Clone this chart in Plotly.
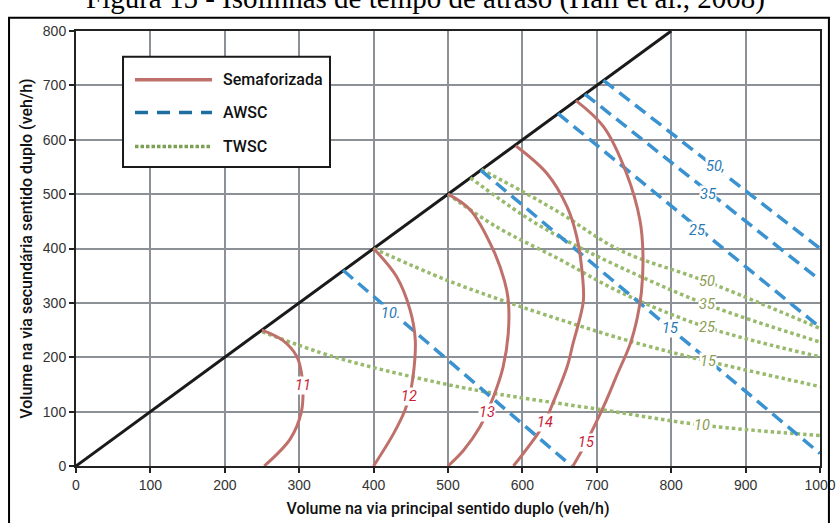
import plotly.graph_objects as go

# ---------------- data ----------------
diag_x = [0, 800]
diag_y = [0, 800]

# Semaforizada (signalised) delay isolines
sem_11_x = [250, 278, 297, 303, 305, 303, 288, 253]
sem_11_y = [250, 231, 201, 171, 148, 100, 50, 0]
sem_12_x = [400, 431, 449, 456, 453, 448, 442, 427, 400]
sem_12_y = [400, 348, 287, 232, 164, 128, 102, 60, 0]
sem_13_x = [500, 530, 561, 576, 581, 581, 574, 561, 552, 543, 521, 500]
sem_13_y = [500, 471, 397, 340, 305, 244, 182, 127, 99, 72, 29, 0]
sem_14_x = [591, 633, 660, 673, 680, 682, 675, 668, 660, 639, 630, 619, 588]
sem_14_y = [589, 538, 477, 422, 360, 305, 260, 225, 182, 109, 80, 56, 0]
sem_15_x = [672, 709, 740, 758, 762, 760, 754, 745, 727, 709, 686, 668]
sem_15_y = [672, 624, 538, 452, 391, 320, 270, 225, 167, 109, 44, 0]

# AWSC delay isolines
awsc_10_x = [359, 666]
awsc_10_y = [360, 0]
awsc_15_x = [544, 1000]
awsc_15_y = [544, 23]
awsc_25_x = [648, 1000]
awsc_25_y = [648, 255]
awsc_35_x = [684, 1000]
awsc_35_y = [684, 342]
awsc_50_x = [709, 1000]
awsc_50_y = [709, 400]

# TWSC delay isolines
twsc_10_x = [250, 346, 462, 552, 709, 843, 1000]
twsc_10_y = [247, 201, 161, 136, 103, 75, 56]
twsc_15_x = [400, 498, 600, 731, 798, 848, 1000]
twsc_15_y = [400, 342, 292, 235, 210, 193, 146]
twsc_25_x = [500, 565, 650, 731, 848, 1000]
twsc_25_y = [500, 440, 380, 320, 255, 201]
twsc_35_x = [530, 600, 650, 731, 848, 1000]
twsc_35_y = [530, 462, 421, 366, 297, 228]
twsc_50_x = [545, 600, 650, 731, 848, 1000]
twsc_50_y = [545, 505, 466, 397, 339, 253]

# isoline labels
sem_lab_text = ["11", "12", "13", "14", "15"]
sem_lab_x = [305, 448, 552, 630, 686]
sem_lab_y = [148, 128, 99, 80, 44]
awsc_lab_text = ["10.", "15", "25", "35", "50,"]
awsc_lab_x = [424, 798, 834, 850, 859]
awsc_lab_y = [281, 253, 434, 499, 551]
twsc_lab_text = ["50", "35", "25", "15", "10"]
twsc_lab_x = [848, 848, 848, 849, 842]
twsc_lab_y = [339, 297, 255, 193, 75]

x_ticks = [0, 100, 200, 300, 400, 500, 600, 700, 800, 900, 1000]
y_ticks = [0, 100, 200, 300, 400, 500, 600, 700, 800]

legend_names = ["Semaforizada", "AWSC", "TWSC"]

title_text = "Figura 15 - Isolinhas de tempo de atraso (Hall et al., 2008)"
x_title = "Volume na via principal sentido duplo (veh/h)"
y_title = "Volume na via secundária sentido duplo (veh/h)"

# ---------------- styles ----------------
RED = "rgb(192,112,106)"
BLUE = "rgb(58,146,208)"
GREEN = "rgb(152,186,108)"
RED_TXT = "rgb(200,30,55)"
BLUE_TXT = "rgb(40,120,180)"
GREEN_TXT = "rgb(138,155,80)"
FONT = "Roboto"
TICK_FONT = "Liberation Sans, Arial, sans-serif"

fig = go.Figure()

fig.add_trace(go.Scatter(x=diag_x, y=diag_y, mode="lines",
                         line=dict(color="#1a1a1a", width=3), showlegend=False))

for xs, ys in [(twsc_10_x, twsc_10_y), (twsc_15_x, twsc_15_y), (twsc_25_x, twsc_25_y),
               (twsc_35_x, twsc_35_y), (twsc_50_x, twsc_50_y)]:
    fig.add_trace(go.Scatter(x=xs, y=ys, mode="lines", line_shape="spline",
                             line=dict(color=GREEN, width=3.5, dash="3.5px,3px"),
                             name="TWSC", showlegend=False))

for xs, ys in [(awsc_10_x, awsc_10_y), (awsc_15_x, awsc_15_y), (awsc_25_x, awsc_25_y),
               (awsc_35_x, awsc_35_y), (awsc_50_x, awsc_50_y)]:
    fig.add_trace(go.Scatter(x=xs, y=ys, mode="lines",
                             line=dict(color=BLUE, width=3.5, dash="13px,7px"),
                             name="AWSC", showlegend=False))

for xs, ys in [(sem_11_x, sem_11_y), (sem_12_x, sem_12_y), (sem_13_x, sem_13_y),
               (sem_14_x, sem_14_y), (sem_15_x, sem_15_y)]:
    fig.add_trace(go.Scatter(x=xs, y=ys, mode="lines", line_shape="spline",
                             line=dict(color=RED, width=3),
                             name="Semaforizada", showlegend=False))

def add_labels(texts, xs, ys, color):
    for t, x, y in zip(texts, xs, ys):
        fig.add_annotation(x=x, y=y, text=t, showarrow=False,
                           font=dict(family=FONT, size=14.5, color=color, style="italic"),
                           bgcolor="white", borderpad=0)

add_labels(sem_lab_text, sem_lab_x, sem_lab_y, RED_TXT)
add_labels(awsc_lab_text, awsc_lab_x, awsc_lab_y, BLUE_TXT)
add_labels(twsc_lab_text, twsc_lab_x, twsc_lab_y, GREEN_TXT)

# ---------------- custom legend box ----------------
lx0, lx1, ly0, ly1 = 0.0632, 0.3414, 0.6876, 0.9408
fig.add_shape(type="rect", xref="paper", yref="paper", x0=lx0, x1=lx1, y0=ly0, y1=ly1,
              line=dict(color="#1a1a1a", width=2), fillcolor="white", layer="above")
leg_styles = [dict(color=RED, width=3.5),
              dict(color="rgb(30,110,160)", width=3.5, dash="13px,9px"),
              dict(color="rgb(125,160,85)", width=3.5, dash="3.5px,2px")]
leg_y = [0.8879, 0.8127, 0.7344]
for name, st, yy in zip(legend_names, leg_styles, leg_y):
    fig.add_shape(type="line", xref="paper", yref="paper", x0=0.0793, x1=0.1828,
                  y0=yy, y1=yy, line=st, layer="above")
    fig.add_annotation(xref="paper", yref="paper", x=0.1949, y=yy, text=name,
                       showarrow=False, xanchor="left", yanchor="middle",
                       font=dict(family=FONT, size=16, color="#111", weight=500))

# outer frame
fig.add_shape(type="rect", xref="paper", yref="paper", x0=-0.090, x1=1.012,
              y0=-0.16, y1=1.0306, line=dict(color="black", width=2), layer="above")

# title (cut at top as in the reference)
fig.add_annotation(xref="paper", yref="paper", x=0.470, y=1.075, text=title_text,
                   showarrow=False, xanchor="center", yanchor="middle",
                   font=dict(family="Liberation Serif", size=29, color="black"))

axis_common = dict(showgrid=True, gridcolor="rgb(140,145,152)", gridwidth=1.5,
                   showline=True, linecolor="#222", linewidth=2, mirror=True,
                   ticks="outside", ticklen=5, tickcolor="#222", tickwidth=1.5,
                   zeroline=False, automargin=False,
                   tickfont=dict(family=TICK_FONT, size=14, color="#333"))

fig.update_xaxes(range=[0, 1000], tickvals=x_ticks, **axis_common,
                 title=dict(text=x_title, standoff=11,
                            font=dict(family=FONT, size=16, color="#111", weight=500)))
fig.update_yaxes(range=[0, 800], tickvals=y_ticks, **axis_common,
                 title=dict(text=y_title, standoff=6,
                            font=dict(family=FONT, size=16, color="#111", weight=500)))

fig.update_layout(width=837, height=523,
                  margin=dict(l=76, r=17, t=31, b=57, autoexpand=False),
                  plot_bgcolor="white", paper_bgcolor="white",
                  showlegend=False)

fig.write_html("out.html")
